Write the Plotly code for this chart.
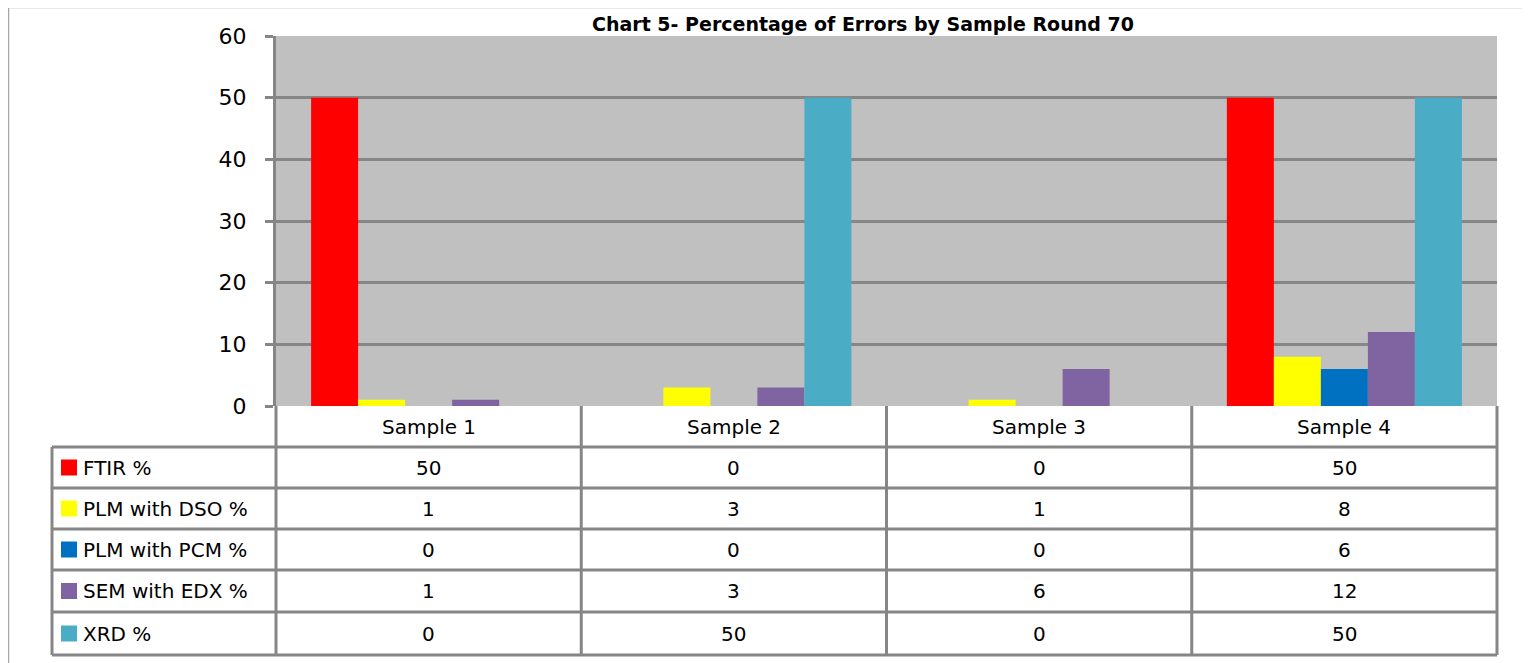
import plotly.graph_objects as go

# ---- data ----
categories = ["Sample 1", "Sample 2", "Sample 3", "Sample 4"]
series_names = ["FTIR %", "PLM with DSO %", "PLM with PCM %", "SEM with EDX %", "XRD %"]
ftir = [50, 0, 0, 50]
plm_dso = [1, 3, 1, 8]
plm_pcm = [0, 0, 0, 6]
sem_edx = [1, 3, 6, 12]
xrd = [0, 50, 0, 50]
y_ticks = [0, 10, 20, 30, 40, 50, 60]
title_text = "Chart 5- Percentage of Errors by Sample Round 70"

series_values = [ftir, plm_dso, plm_pcm, sem_edx, xrd]
colors = ["#FF0000", "#FFFF00", "#0070C0", "#8064A2", "#4BACC6"]

# ---- layout geometry (reference-page pixels) ----
OFF = 8                    # page body margin
W, H = 1530 - OFF, 663 - OFF
PX0, PX1 = 276, 1497       # plot area x
PY0, PY1 = 36, 406         # plot area y (top, bottom)
TBL_LEFT = 52
row_edges = [406, 447, 488, 529, 570, 612, 655]
GRID = "#868686"
FONT = "DejaVu Sans"
TXT = 20


def X(px):
    return (px - OFF) / W


def Y(py):
    return 1 - (py - OFF) / H


fig = go.Figure()
for name, vals, col in zip(series_names, series_values, colors):
    fig.add_trace(go.Bar(x=categories, y=vals, name=name,
                         marker=dict(color=col, line=dict(width=0))))

shapes = []
annotations = []

# outer frame
shapes.append(dict(type="rect", xref="paper", yref="paper",
                   x0=X(8.5), x1=X(1526.5), y0=Y(690), y1=Y(7.5),
                   line=dict(color="#A6A6A6", width=1.5), layer="below"))

col_w = (PX1 - PX0) / len(categories)
col_edges = [PX0 + i * col_w for i in range(len(categories) + 1)]
line_style = dict(color=GRID, width=3)

# horizontal table lines
for r in row_edges[1:]:
    shapes.append(dict(type="line", xref="paper", yref="paper",
                       x0=X(TBL_LEFT), x1=X(PX1), y0=Y(r), y1=Y(r), line=line_style))
# vertical table lines
shapes.append(dict(type="line", xref="paper", yref="paper",
                   x0=X(TBL_LEFT), x1=X(TBL_LEFT), y0=Y(row_edges[1]), y1=Y(row_edges[-1]),
                   line=line_style))
for c in col_edges:
    shapes.append(dict(type="line", xref="paper", yref="paper",
                       x0=X(c), x1=X(c), y0=Y(row_edges[0]), y1=Y(row_edges[-1]),
                       line=line_style))

# header labels
hdr_mid = (row_edges[0] + row_edges[1]) / 2
for i, cat in enumerate(categories):
    annotations.append(dict(xref="paper", yref="paper", x=X((col_edges[i] + col_edges[i + 1]) / 2),
                            y=Y(hdr_mid), text=cat, showarrow=False,
                            xanchor="center", yanchor="middle",
                            font=dict(family=FONT, size=TXT, color="black")))

# data rows
for j, (name, vals, col) in enumerate(zip(series_names, series_values, colors)):
    mid = (row_edges[j + 1] + row_edges[j + 2]) / 2
    shapes.append(dict(type="rect", xref="paper", yref="paper",
                       x0=X(61), x1=X(77), y0=Y(mid + 8), y1=Y(mid - 8),
                       fillcolor=col, line=dict(width=0)))
    annotations.append(dict(xref="paper", yref="paper", x=X(81), y=Y(mid), text=name,
                            showarrow=False, xanchor="left", yanchor="middle",
                            font=dict(family=FONT, size=TXT, color="black")))
    for i, v in enumerate(vals):
        annotations.append(dict(xref="paper", yref="paper",
                                x=X((col_edges[i] + col_edges[i + 1]) / 2), y=Y(mid),
                                text=str(v), showarrow=False, xanchor="center", yanchor="middle",
                                font=dict(family=FONT, size=TXT, color="black")))

# title
annotations.append(dict(xref="paper", yref="paper", x=X(863), y=Y(24), text="<b>" + title_text + "</b>",
                        showarrow=False, xanchor="center", yanchor="middle",
                        font=dict(family=FONT, size=19, color="black")))

fig.update_layout(
    width=W, height=H,
    margin=dict(l=0, r=0, t=0, b=0, autoexpand=False),
    paper_bgcolor="white",
    plot_bgcolor="#C0C0C0",
    showlegend=False,
    barmode="group",
    bargap=0.23,
    bargroupgap=0,
    shapes=shapes,
    annotations=annotations,
    font=dict(family=FONT, size=TXT, color="black"),
    xaxis=dict(domain=[X(PX0), X(PX1)], showticklabels=False, showgrid=False, automargin=False,
               zeroline=False, showline=False, ticks="", range=[-0.5, len(categories) - 0.5]),
    yaxis=dict(domain=[Y(PY1), Y(PY0)], range=[0, 60], tickvals=y_ticks, automargin=False,
               showgrid=True, gridcolor=GRID, gridwidth=3,
               zeroline=False, showline=True, linecolor=GRID, linewidth=3,
               ticks="outside", ticklen=8, tickwidth=3, tickcolor=GRID,
               ticklabelstandoff=14,
               tickfont=dict(family=FONT, size=22, color="black")),
)

fig.write_html("out.html")
